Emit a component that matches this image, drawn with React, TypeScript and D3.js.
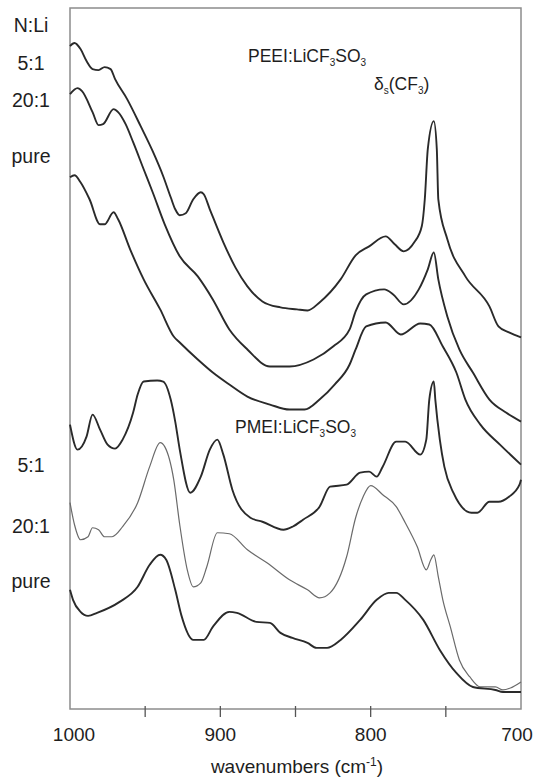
import React from "react";
import * as d3 from "d3";

// wavenumber (cm-1), relative absorbance (offset, arbitrary units)
const peei51: [number, number][] = [
  [1000,662],[997,665],[993,659],[989,647],[985,639],[981,638],[977,641],[973,639],[970,629],[962,609],[953,582],[945,557],[938,532],[933,511],[930,499],[927,493],[923,495],[918,509],[913,516],[911,514],[907,499],[898,466],[890,441],[882,422],[872,407],[860,401],[849,399],[842,398],[834,406],[820,429],[810,453],[801,462],[790,472],[784,464],[778,457],[771,466],[766,482],[764,509],[762,559],[758,587],[756,559],[755,509],[749,469],[737,432],[721,402],[715,382],[708,376],[700,371]
];
const peei201: [number, number][] = [
  [1000,614],[995,620],[992,617],[985,596],[981,583],[978,584],[971,599],[968,596],[963,584],[958,566],[951,539],[945,516],[937,484],[927,452],[915,432],[905,409],[894,379],[882,359],[867,342],[854,342],[838,349],[825,362],[814,379],[810,397],[803,414],[791,419],[785,414],[778,404],[768,419],[762,439],[758,456],[755,429],[749,392],[741,359],[732,336],[721,309],[710,296],[700,287]
];
const peeiPure: [number, number][] = [
  [1000,531],[997,533],[993,526],[987,509],[980,484],[977,484],[971,496],[968,489],[960,459],[951,429],[940,399],[931,372],[927,366],[915,349],[905,336],[894,324],[882,312],[867,304],[854,299],[844,299],[834,309],[824,324],[814,344],[810,359],[803,382],[790,386],[780,374],[767,385],[761,384],[752,362],[743,336],[737,309],[727,284],[714,264],[700,244]
];
const pmei51: [number, number][] = [
  [1000,284],[995,259],[989,272],[985,294],[980,279],[975,264],[970,260],[965,269],[958,296],[955,314],[951,327],[942,328],[938,327],[933,309],[930,287],[927,259],[920,216],[913,232],[907,259],[902,269],[898,254],[892,219],[880,191],[872,187],[858,179],[852,182],[845,189],[834,202],[827,222],[816,224],[807,236],[801,237],[796,232],[792,242],[783,267],[777,267],[767,254],[763,269],[761,309],[758,327],[757,309],[754,269],[751,242],[745,216],[733,196],[729,196],[721,207],[715,207],[708,212],[701,224],[700,229]
];
const pmei201: [number, number][] = [
  [1000,206],[997,184],[993,169],[988,172],[985,181],[981,179],[977,172],[972,172],[965,182],[955,206],[947,242],[940,266],[937,262],[931,229],[927,184],[922,139],[918,122],[913,126],[909,142],[902,176],[894,175],[882,159],[869,146],[854,129],[842,119],[834,111],[827,116],[816,152],[810,191],[805,212],[800,223],[792,214],[783,202],[777,186],[769,162],[763,139],[760,149],[758,154],[755,132],[752,109],[747,82],[741,49],[734,32],[727,22],[717,22],[712,19],[707,21],[700,27]
];
const pmeiPure: [number, number][] = [
  [1000,119],[998,109],[993,97],[988,93],[982,96],[967,107],[955,122],[947,144],[940,154],[936,149],[930,119],[926,94],[918,69],[911,69],[905,82],[894,97],[889,96],[876,87],[867,86],[860,76],[852,71],[842,66],[836,61],[829,61],[820,69],[807,89],[796,109],[788,116],[783,116],[777,109],[765,89],[754,59],[743,36],[732,22],[717,19],[712,17],[700,17]
];

const xTicks = [1000, 900, 800, 700];
const xMinorTicks = [950, 900, 850, 800, 750];

const series = [
  { name: "PEEI 5:1", data: peei51, thin: false },
  { name: "PEEI 20:1", data: peei201, thin: false },
  { name: "PEEI pure", data: peeiPure, thin: false },
  { name: "PMEI 5:1", data: pmei51, thin: false },
  { name: "PMEI 20:1", data: pmei201, thin: true },
  { name: "PMEI pure", data: pmeiPure, thin: false },
];

const leftLabels = [
  { text: "N:Li", y: 32 },
  { text: "5:1", y: 70 },
  { text: "20:1", y: 107 },
  { text: "pure", y: 163 },
  { text: "5:1", y: 472 },
  { text: "20:1", y: 533 },
  { text: "pure", y: 588 },
];

export default function App() {
  const W = 536, H = 778;
  const left = 70, right = 521, top = 8, bottom = 709;
  const x = d3.scaleLinear().domain([1000, 700]).range([left, right]);
  const y = d3.scaleLinear().domain([0, 700]).range([bottom, top]);
  const line = d3
    .line<[number, number]>()
    .x((d) => x(d[0]))
    .y((d) => y(d[1]))
    .curve(d3.curveMonotoneX);
  const font = "'Liberation Sans', Arial, Helvetica, sans-serif";
  const tc = "#1e1e1e";
  return (
    <svg width={W} height={H} style={{ position: "absolute", left: 0, top: 0, background: "#fff" }} fontFamily={font}>
      <rect x={left} y={top} width={right - left} height={bottom - top} fill="none" stroke="#8c8c8c" strokeWidth={1.5} />
      {xMinorTicks.map((t) => (
        <line key={t} x1={x(t)} x2={x(t)} y1={bottom - 3} y2={bottom + 8} stroke="#555" strokeWidth={1.3} />
      ))}
      {xTicks.map((t) => (
        <text key={t} x={Math.min(Math.max(x(t), left + 4), right - 4)} y={741} textAnchor="middle" fontSize={19} fill={tc}>
          {t}
        </text>
      ))}
      <text x={297} y={773} textAnchor="middle" fontSize={19} fill={tc}>
        wavenumbers (cm<tspan dy={-7} fontSize={12}>-1</tspan><tspan dy={7}>)</tspan>
      </text>
      {series.map((s) => (
        <path
          key={s.name}
          d={line(s.data) || ""}
          fill="none"
          stroke={s.thin ? "#6a6a6a" : "#2a2a2a"}
          strokeWidth={s.thin ? 1.2 : 1.9}
          strokeLinejoin="round"
        />
      ))}
      {leftLabels.map((l, i) => (
        <text key={i} x={31} y={l.y} textAnchor="middle" fontSize={19.5} fill={tc}>
          {l.text}
        </text>
      ))}
      <text x={248} y={62} fontSize={17.5} fill={tc}>
        PEEI:LiCF<tspan dy={4} fontSize={10}>3</tspan><tspan dy={-4}>SO</tspan><tspan dy={4} fontSize={10}>3</tspan>
      </text>
      <text x={374} y={90} fontSize={17.5} fill={tc}>
        δ<tspan dy={4} fontSize={10}>s</tspan><tspan dy={-4}>(CF</tspan><tspan dy={4} fontSize={10}>3</tspan><tspan dy={-4}>)</tspan>
      </text>
      <text x={235} y={433} fontSize={17.5} fill={tc}>
        PMEI:LiCF<tspan dy={4} fontSize={10}>3</tspan><tspan dy={-4}>SO</tspan><tspan dy={4} fontSize={10}>3</tspan>
      </text>
    </svg>
  );
}
